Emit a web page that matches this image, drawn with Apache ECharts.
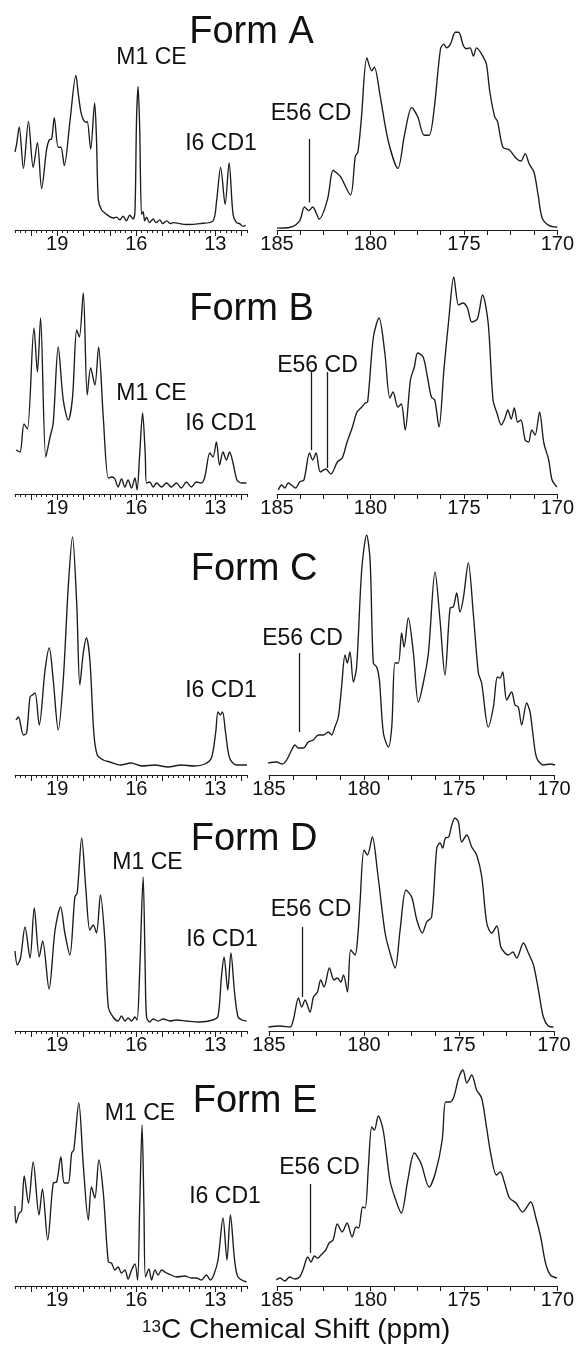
<!DOCTYPE html>
<html>
<head>
<meta charset="utf-8">
<title>13C spectra, Forms A-E</title>
<script src="https://cdn.jsdelivr.net/npm/echarts@6/dist/echarts.min.js"></script>
<style>
  html, body { margin: 0; padding: 0; background: #fff; }
  #chart { width: 577px; height: 1351px; }
</style>
</head>
<body>
<div id="chart"></div>
<script>
  // tick labels
  const aliphaticTicks = [19, 16, 13];
  const carbonylTicks = [185, 180, 175, 170];
  const formNames = ['Form A', 'Form B', 'Form C', 'Form D', 'Form E'];

  // spectra as [ppm, intensity]
  const formA_aliphatic = [[20.6, 85], [20.54, 93], [20.44, 112], [20.28, 67], [20.09, 118], [19.91, 68], [19.75, 95], [19.59, 45], [19.40, 88], [19.30, 98], [19.21, 99], [19.11, 122], [18.96, 90], [18.86, 90], [18.73, 70], [18.52, 117], [18.29, 168], [18.20, 148], [18.10, 128], [18.01, 120], [17.91, 117], [17.86, 118], [17.73, 88], [17.58, 138], [17.51, 100], [17.44, 33], [17.32, 22], [17.13, 17], [16.88, 13], [16.75, 14], [16.62, 11], [16.5, 15], [16.37, 10], [16.25, 16], [16.12, 12], [16.05, 20], [15.99, 120], [15.93, 156], [15.87, 110], [15.80, 17], [15.74, 20], [15.68, 10], [15.61, 14], [15.5, 8], [15.36, 12], [15.25, 8], [15.11, 11], [15.0, 7], [14.85, 10], [14.7, 7], [14.6, 8], [14.1, 6], [13.59, 7], [13.09, 10], [12.96, 30], [12.80, 68], [12.63, 28], [12.48, 73], [12.33, 17], [12.2, 8], [12.08, 7], [11.95, 4], [11.85, 5]];
  const formA_carbonyl = [[185, 2], [184.3, 3], [183.79, 10], [183.53, 25], [183.3, 21], [183.09, 25], [182.74, 12], [182.3, 33], [182.0, 65], [181.8, 62], [181.6, 58], [181.07, 38], [180.81, 80], [180.67, 85], [180.49, 120], [180.19, 187], [179.93, 173], [179.79, 177], [179.49, 147], [179.05, 97], [178.53, 67], [178.18, 103], [177.79, 133], [177.47, 123], [177.12, 103], [176.86, 103], [176.6, 130], [176.25, 197], [176.07, 202], [175.93, 198], [175.72, 202], [175.46, 215], [175.28, 215], [175.02, 200], [174.84, 197], [174.67, 198], [174.49, 189], [174.32, 198], [173.96, 188], [173.79, 180], [173.61, 150], [173.35, 123], [173.2, 118], [172.91, 90], [172.56, 87], [172.21, 78], [171.95, 75], [171.72, 83], [171.51, 72], [171.25, 63], [171.02, 37], [170.81, 13], [170.46, 5], [170.0, 3]];

  const formB_aliphatic = [[20.56, 44], [20.41, 42], [20.26, 70], [20.13, 65], [19.88, 166], [19.75, 122], [19.63, 176], [19.43, 37], [19.27, 57], [19.15, 71], [18.96, 147], [18.77, 94], [18.58, 74], [18.42, 96], [18.26, 164], [18.16, 157], [18.01, 201], [17.86, 99], [17.73, 126], [17.57, 109], [17.43, 147], [17.25, 76], [17.06, 16], [16.93, 17], [16.81, 15], [16.69, 7], [16.56, 15], [16.43, 7], [16.31, 14], [16.18, 6], [16.05, 16], [15.97, 4], [15.87, 40], [15.76, 81], [15.66, 40], [15.61, 11], [15.49, 12], [15.36, 7], [15.23, 11], [15.04, 7], [14.85, 11], [14.67, 7], [14.48, 11], [14.29, 6], [14.10, 12], [13.91, 7], [13.72, 12], [13.53, 11], [13.40, 17], [13.21, 41], [13.09, 37], [12.96, 52], [12.84, 29], [12.71, 42], [12.58, 34], [12.46, 42], [12.33, 31], [12.18, 14], [12.01, 11], [11.82, 11]];
  const formB_carbonyl = [[184.93, 4], [184.75, 9], [184.58, 6], [184.4, 11], [184.23, 9], [184.0, 6], [183.79, 12], [183.56, 14], [183.26, 41], [183.09, 34], [182.91, 41], [182.68, 22], [182.39, 25], [182.12, 20], [181.77, 32], [181.51, 36], [181.25, 52], [180.98, 66], [180.72, 82], [180.46, 87], [180.28, 91], [180.15, 92], [179.84, 157], [179.54, 176], [179.23, 141], [178.96, 96], [178.79, 102], [178.53, 87], [178.35, 90], [178.14, 64], [177.86, 114], [177.65, 127], [177.47, 141], [177.18, 137], [176.95, 117], [176.74, 97], [176.56, 94], [176.33, 67], [176.07, 124], [175.81, 174], [175.54, 217], [175.28, 189], [175.05, 191], [174.81, 186], [174.58, 172], [174.28, 175], [174.0, 199], [173.7, 171], [173.44, 94], [173.23, 81], [173.0, 69], [172.8, 76], [172.65, 84], [172.47, 75], [172.3, 86], [172.12, 72], [171.95, 74], [171.72, 54], [171.54, 52], [171.37, 64], [171.19, 59], [170.95, 82], [170.72, 51], [170.46, 34], [170.28, 14], [170.02, 7]];

  const formC_aliphatic = [[20.56, 55], [20.47, 58], [20.28, 40], [20.16, 42], [20.03, 78], [19.94, 80], [19.84, 82], [19.68, 50], [19.46, 105], [19.3, 127], [19.15, 95], [18.96, 45], [18.77, 95], [18.58, 188], [18.42, 238], [18.26, 172], [18.14, 90], [18.01, 122], [17.89, 137], [17.76, 115], [17.61, 42], [17.48, 20], [17.25, 15], [17.0, 13], [16.6, 10], [16.2, 12], [15.8, 9], [15.3, 10], [14.8, 8], [14.3, 10], [13.8, 9], [13.4, 11], [13.15, 17], [12.99, 42], [12.9, 63], [12.81, 60], [12.73, 63], [12.61, 42], [12.46, 17], [12.2, 10], [11.8, 10]];
  const formC_carbonyl = [[185.04, 12], [184.6, 13], [184.3, 11], [184.07, 15], [183.81, 25], [183.63, 30], [183.46, 27], [183.19, 27], [182.93, 33], [182.67, 35], [182.4, 40], [182.14, 40], [181.88, 43], [181.7, 40], [181.53, 48], [181.35, 58], [181.18, 88], [181.0, 120], [180.88, 112], [180.74, 123], [180.56, 93], [180.39, 108], [180.12, 205], [179.86, 240], [179.68, 215], [179.51, 112], [179.33, 108], [179.19, 95], [178.98, 42], [178.72, 28], [178.54, 48], [178.37, 112], [178.19, 112], [178.02, 142], [177.89, 128], [177.67, 157], [177.4, 122], [177.14, 73], [176.88, 92], [176.61, 122], [176.26, 203], [176.0, 155], [175.74, 100], [175.47, 167], [175.3, 168], [175.12, 182], [174.95, 163], [174.77, 177], [174.51, 212], [174.25, 162], [173.98, 102], [173.81, 92], [173.46, 48], [173.19, 68], [172.98, 98], [172.84, 97], [172.7, 103], [172.49, 75], [172.23, 83], [172.05, 70], [171.88, 68], [171.7, 50], [171.44, 72], [171.26, 63], [171.09, 38], [170.91, 17], [170.56, 10], [170.2, 11], [169.95, 10]];

  const formD_aliphatic = [[20.6, 80], [20.51, 66], [20.39, 73], [20.22, 104], [20.03, 73], [19.87, 123], [19.68, 74], [19.55, 90], [19.31, 42], [19.08, 101], [18.87, 124], [18.71, 98], [18.52, 76], [18.33, 134], [18.24, 138], [18.07, 193], [17.91, 141], [17.76, 101], [17.63, 106], [17.51, 98], [17.36, 136], [17.19, 91], [17.06, 24], [16.88, 14], [16.69, 10], [16.56, 15], [16.43, 10], [16.31, 13], [16.18, 10], [16.05, 14], [15.97, 11], [15.87, 60], [15.74, 154], [15.66, 60], [15.61, 14], [15.49, 9], [15.36, 12], [15.17, 10], [14.98, 12], [14.73, 10], [14.48, 11], [14.1, 10], [13.6, 9], [13.1, 11], [12.9, 15], [12.77, 54], [12.67, 74], [12.53, 41], [12.41, 78], [12.27, 38], [12.14, 14], [11.99, 11], [11.82, 10]];
  const formD_carbonyl = [[185.03, 4], [184.42, 5], [183.89, 4], [183.72, 11], [183.45, 33], [183.28, 24], [183.1, 31], [182.84, 19], [182.66, 34], [182.45, 39], [182.28, 51], [182.1, 44], [181.82, 63], [181.58, 51], [181.4, 53], [181.22, 49], [181.08, 56], [180.87, 39], [180.7, 81], [180.47, 76], [180.33, 94], [180.21, 128], [180.0, 181], [179.82, 176], [179.56, 194], [179.3, 161], [178.89, 98], [178.63, 78], [178.36, 63], [178.1, 101], [177.79, 141], [177.49, 134], [177.22, 111], [176.93, 98], [176.7, 109], [176.44, 114], [176.17, 183], [176.0, 188], [175.86, 183], [175.72, 193], [175.54, 194], [175.38, 206], [175.21, 213], [175.03, 209], [174.86, 189], [174.59, 196], [174.33, 184], [174.07, 176], [173.8, 154], [173.54, 108], [173.28, 98], [173.01, 105], [172.8, 84], [172.58, 78], [172.4, 76], [172.17, 79], [171.96, 73], [171.61, 88], [171.35, 78], [171.08, 66], [170.82, 41], [170.56, 14], [170.3, 5], [170.03, 4]];

  const formE_aliphatic = [[20.6, 80], [20.56, 63], [20.44, 73], [20.35, 75], [20.25, 110], [20.09, 83], [19.91, 124], [19.69, 71], [19.56, 97], [19.36, 46], [19.15, 103], [19.02, 104], [18.86, 129], [18.73, 103], [18.58, 103], [18.45, 133], [18.37, 136], [18.18, 183], [18.01, 121], [17.82, 66], [17.7, 99], [17.57, 88], [17.42, 126], [17.25, 93], [17.06, 24], [16.94, 23], [16.81, 16], [16.69, 19], [16.56, 13], [16.43, 16], [16.31, 7], [16.18, 16], [16.05, 22], [15.95, 6], [15.87, 80], [15.78, 161], [15.71, 80], [15.65, 9], [15.52, 17], [15.42, 6], [15.29, 16], [15.17, 11], [15.04, 16], [14.85, 13], [14.67, 11], [14.48, 9], [14.16, 10], [13.91, 8], [13.72, 8], [13.53, 6], [13.34, 11], [13.19, 6], [13.06, 11], [12.9, 26], [12.71, 68], [12.56, 26], [12.43, 71], [12.27, 26], [12.14, 9], [11.82, 4]];
  const formE_carbonyl = [[185.05, 6], [184.84, 8], [184.58, 5], [184.32, 9], [184.05, 7], [183.79, 9], [183.61, 16], [183.35, 29], [183.18, 24], [183.0, 30], [182.82, 28], [182.65, 31], [182.39, 36], [182.21, 43], [182.0, 46], [181.77, 62], [181.51, 54], [181.25, 63], [180.98, 49], [180.77, 59], [180.63, 58], [180.42, 79], [180.28, 78], [180.11, 119], [179.93, 159], [179.79, 156], [179.58, 170], [179.32, 156], [178.96, 106], [178.7, 89], [178.35, 73], [178.0, 106], [177.65, 133], [177.3, 123], [176.86, 99], [176.51, 114], [176.16, 146], [175.98, 184], [175.75, 184], [175.54, 189], [175.28, 208], [175.05, 216], [174.84, 203], [174.58, 211], [174.32, 196], [174.05, 188], [173.79, 159], [173.53, 129], [173.26, 111], [173.05, 114], [172.82, 103], [172.56, 88], [172.21, 83], [171.86, 74], [171.42, 84], [171.16, 69], [170.89, 49], [170.63, 23], [170.37, 11], [170.02, 8]];

  const aliphaticSpectra = [formA_aliphatic, formB_aliphatic, formC_aliphatic, formD_aliphatic, formE_aliphatic];
  const carbonylSpectra = [formA_carbonyl, formB_carbonyl, formC_carbonyl, formD_carbonyl, formE_carbonyl];

  // E56 CD marker lines: [ppm, bottom, top]
  const e56Markers = [
    [[183.26, 30, 99]],
    [[183.17, 44, 122], [182.3, 26, 122]],
    [[183.41, 43, 122]],
    [[183.23, 34, 104]],
    [[183.23, 33, 102]]
  ];

  // layout (pixels)
  const rowAxisY = [230, 494, 775, 1031, 1286];
  const carbonylLeft = [277, 277, 269, 269, 277];
  const panelH = 250;
  const FONT = '"Liberation Sans", Arial, Helvetica, sans-serif';
  // label centres: [x, baseline]
  const titlePos = [[251.5, 46], [251.5, 323], [254, 583], [254, 853], [255, 1115]];
  const m1Pos = [[151.5, 66], [151.5, 402], null, [147.5, 871], [140, 1122]];
  const i6Pos = [[221, 152], [221, 432], [221, 699], [222, 948], [225, 1205]];
  const e56Pos = [[311, 122], [317.5, 374], [302.5, 647], [311, 918], [319.5, 1176]];

  const chart = echarts.init(document.getElementById('chart'));

  const grid = [], xAxis = [], yAxis = [], series = [], graphic = [];
  const ink = '#1c1c1c';

  function addGrid(left, width, axisY) {
    grid.push({ left: left, width: width, top: axisY - panelH, height: panelH });
    yAxis.push({ gridIndex: grid.length - 1, type: 'value', min: 0, max: panelH, show: false });
    return grid.length - 1;
  }

  for (let r = 0; r < 5; r++) {
    const axisY = rowAxisY[r];

    // aliphatic panel: minor ticks + spectrum
    const g1 = addGrid(15, 232, axisY);
    xAxis.push({
      gridIndex: g1, type: 'value', inverse: true, min: 11.8, max: 20.6, interval: 0.2,
      axisLine: { lineStyle: { color: ink, width: 1 } },
      axisTick: { length: 3, lineStyle: { color: ink, width: 1 } },
      axisLabel: { show: false }, splitLine: { show: false }
    });
    series.push({
      type: 'line', xAxisIndex: xAxis.length - 1, yAxisIndex: g1,
      data: aliphaticSpectra[r], showSymbol: false, smooth: 0.3, clip: false,
      lineStyle: { color: ink, width: 1.35 }
    });

    // aliphatic major ticks (integer ppm) in an overlay grid spanning 20 -> 12
    const g2 = addGrid(15 + 0.6 / 8.8 * 232, 8 / 8.8 * 232, axisY);
    xAxis.push({
      gridIndex: g2, type: 'value', inverse: true, min: 12, max: 20, interval: 1,
      axisLine: { show: false },
      axisTick: { length: 6, lineStyle: { color: ink, width: 1 } },
      axisLabel: {
        margin: 4, fontSize: 20, color: '#111', fontFamily: FONT,
        formatter: v => aliphaticTicks.includes(v) ? String(v) : ''
      },
      splitLine: { show: false }
    });

    // carbonyl panel
    const g3 = addGrid(carbonylLeft[r], 285, axisY);
    xAxis.push({
      gridIndex: g3, type: 'value', inverse: true, min: 170, max: 185, interval: 1.25,
      axisLine: { lineStyle: { color: ink, width: 1 } },
      axisTick: { length: 5, lineStyle: { color: ink, width: 1 } },
      axisLabel: {
        margin: 4, fontSize: 20, color: '#111', fontFamily: FONT,
        formatter: v => carbonylTicks.includes(v) ? String(v) : ''
      },
      splitLine: { show: false }
    });
    series.push({
      type: 'line', xAxisIndex: xAxis.length - 1, yAxisIndex: g3,
      data: carbonylSpectra[r], showSymbol: false, smooth: 0.3, clip: false,
      lineStyle: { color: ink, width: 1.35 },
      markLine: {
        symbol: 'none', silent: true, animation: false,
        label: { show: false },
        lineStyle: { color: ink, width: 1.3, type: 'solid' },
        data: e56Markers[r].map(m => [{ coord: [m[0], m[1]] }, { coord: [m[0], m[2]] }])
      }
    });

    // texts
    const addText = (txt, pos, size) => {
      if (!pos) return;
      graphic.push({
        type: 'text', silent: true,
        style: {
          text: txt, x: pos[0], y: pos[1] - 0.35 * size,
          fontSize: size, fontFamily: FONT, fill: '#111',
          align: 'center', verticalAlign: 'middle'
        }
      });
    };
    addText(formNames[r], titlePos[r], 38);
    addText('M1 CE', m1Pos[r], 23);
    addText('I6 CD1', i6Pos[r], 23);
    addText('E56 CD', e56Pos[r], 23);
  }

  // axis title with superscript 13
  graphic.push({
    type: 'text', silent: true,
    style: { text: '13', x: 142, y: 1319, fontSize: 17, fontFamily: FONT, fill: '#111', align: 'left', verticalAlign: 'top' }
  });
  graphic.push({
    type: 'text', silent: true,
    style: { text: 'C Chemical Shift (ppm)', x: 161, y: 1340 - 0.35 * 28, fontSize: 28, fontFamily: FONT, fill: '#111', align: 'left', verticalAlign: 'middle' }
  });

  chart.setOption({
    animation: false,
    backgroundColor: '#fff',
    grid: grid,
    xAxis: xAxis,
    yAxis: yAxis,
    series: series,
    graphic: graphic
  });
</script>
</body>
</html>
